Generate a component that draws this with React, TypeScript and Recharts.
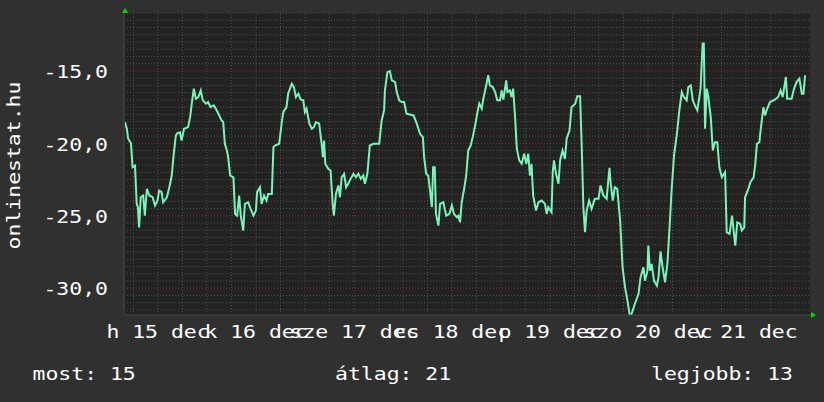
import React from 'react';
import { LineChart, Line, XAxis, YAxis, CartesianGrid, ReferenceLine, ReferenceDot } from 'recharts';

// hours since graph start (Mon 15 Dec ~03:40)
const hours = [0.2,0.7,1.0,1.7,2.1,2.7,3.1,3.4,3.7,4.1,4.7,5.1,5.6,6.2,7.0,7.6,8.2,8.6,9.2,9.6,10.5,11.1,11.7,12.1,12.7,13.1,13.7,14.1,14.7,15.7,16.2,16.6,17.1,17.6,18.2,18.8,19.3,20.1,20.6,21.2,22.0,22.7,23.1,23.9,24.3,24.7,25.2,25.5,26.0,26.8,27.2,27.7,28.2,28.6,29.2,29.6,30.4,31.0,31.7,32.3,32.6,33.3,33.7,34.3,34.9,35.3,36.2,36.6,37.0,38.0,38.6,39.0,39.8,40.2,41.1,41.6,42.1,42.7,43.3,43.9,44.3,44.7,45.4,46.0,46.5,47.0,47.8,48.4,48.7,49.0,49.3,50.0,50.6,51.1,51.4,51.9,52.5,52.9,53.3,53.9,54.4,54.9,55.5,56.2,56.8,57.4,58.0,58.6,59.0,59.6,60.2,61.1,62.5,63.1,63.7,63.9,64.5,65.1,65.6,66.4,66.8,67.4,68.0,68.6,69.2,70.9,71.7,72.5,73.2,73.5,74.0,74.5,74.9,75.4,75.7,76.1,76.4,77.0,77.4,78.2,78.9,79.7,80.3,80.8,81.5,81.9,82.3,82.7,83.3,83.8,84.3,84.9,85.4,86.0,86.5,87.0,87.6,88.0,88.7,89.2,89.6,90.3,90.9,91.4,92.1,92.5,92.9,93.6,93.9,94.5,94.9,95.3,95.8,96.2,96.8,97.4,98.0,98.5,99.0,99.4,99.8,100.2,100.9,101.5,102.3,103.1,103.5,103.9,104.7,105.0,105.3,105.8,106.4,106.8,107.4,108.0,108.4,109.1,109.6,110.5,111.0,111.7,112.1,112.5,112.9,113.3,113.9,114.5,115.3,116.2,116.7,117.4,118.2,118.6,118.9,119.2,119.7,120.2,120.8,121.5,122.1,122.7,123.3,123.8,124.3,125.1,126.0,126.5,127.2,127.6,128.2,128.4,128.8,129.2,129.8,130.5,130.9,131.4,131.9,132.5,133.1,133.7,134.1,134.7,135.4,136.0,136.6,137.1,137.8,138.2,138.8,139.3,139.8,140.4,140.9,141.2,141.7,142.0,142.3,142.7,143.1,143.7,144.2,144.7,145.3,145.8,146.4,147.2,147.6,148.3,148.9,149.3,149.7,150.2,150.9,151.3,151.9,152.1,152.9,153.4,154.2,154.6,155.0,155.6,155.9,156.6,157.0,157.5,158.2,159.4,160.2,160.8,161.3,162.1,162.4,163.5,164.1,164.7,165.4,166.0,166.4,166.8];

const values = [-18.53,-18.99,-19.66,-19.99,-21.65,-21.53,-24.16,-24.41,-25.80,-23.72,-23.60,-24.99,-23.14,-23.60,-23.72,-24.29,-23.95,-23.26,-23.37,-24.07,-23.72,-23.03,-22.22,-20.95,-19.45,-19.29,-19.23,-19.80,-18.99,-18.88,-18.19,-17.26,-16.22,-16.92,-16.80,-16.34,-17.03,-17.26,-17.15,-17.50,-17.38,-17.72,-17.95,-18.42,-18.53,-20.03,-20.49,-20.95,-22.22,-22.34,-24.87,-24.99,-23.60,-24.99,-26.02,-24.18,-24.07,-24.52,-24.99,-24.64,-23.37,-23.03,-24.18,-23.60,-23.95,-23.49,-23.49,-20.26,-20.15,-20.03,-18.64,-17.84,-17.50,-16.57,-15.88,-16.11,-16.80,-16.57,-16.98,-17.03,-17.84,-17.61,-18.64,-18.99,-18.88,-18.53,-18.64,-20.03,-20.95,-19.80,-21.41,-21.76,-21.87,-24.18,-24.99,-23.49,-22.91,-23.72,-22.34,-22.10,-23.03,-22.79,-22.45,-22.10,-22.34,-22.10,-22.45,-22.22,-22.79,-22.10,-20.15,-20.03,-20.03,-18.42,-17.72,-16.34,-15.08,-15.01,-15.65,-15.77,-16.46,-17.03,-17.15,-17.15,-17.95,-18.07,-18.64,-19.34,-19.57,-20.95,-22.10,-22.22,-23.14,-24.41,-21.65,-21.65,-24.87,-25.68,-24.18,-24.07,-24.99,-24.87,-24.29,-24.87,-25.10,-24.99,-25.45,-24.07,-23.14,-22.22,-20.49,-20.15,-19.57,-18.76,-17.95,-17.26,-17.61,-16.92,-16.00,-15.30,-16.00,-16.11,-16.46,-17.03,-17.03,-16.34,-16.98,-15.65,-16.46,-16.34,-16.80,-16.22,-18.30,-20.37,-21.18,-21.41,-20.72,-21.41,-20.72,-22.22,-21.41,-23.60,-24.64,-24.07,-23.95,-24.18,-24.87,-24.41,-24.76,-21.99,-21.18,-22.10,-22.79,-21.18,-20.49,-21.07,-19.68,-19.11,-17.50,-17.26,-16.74,-16.74,-20.26,-24.41,-26.14,-24.64,-23.95,-24.52,-23.83,-23.83,-22.91,-23.60,-23.83,-22.57,-21.69,-22.79,-23.95,-23.03,-23.14,-25.33,-28.56,-29.94,-30.86,-31.78,-31.78,-31.09,-30.40,-29.25,-28.56,-29.48,-28.79,-27.06,-28.79,-28.33,-29.48,-29.83,-29.25,-27.46,-28.56,-29.60,-28.22,-25.33,-23.26,-20.84,-19.34,-17.72,-16.46,-16.80,-17.03,-16.11,-16.00,-17.03,-17.38,-17.72,-16.80,-16.22,-13.11,-13.11,-18.99,-16.22,-16.80,-18.19,-20.49,-19.92,-19.92,-21.65,-22.34,-21.99,-26.14,-26.25,-24.99,-26.02,-27.06,-25.45,-25.56,-26.02,-25.80,-23.72,-23.14,-22.68,-22.34,-21.41,-20.03,-19.92,-19.11,-17.50,-18.07,-17.61,-17.15,-16.98,-16.80,-16.34,-16.80,-15.42,-16.92,-16.92,-16.22,-15.77,-15.53,-16.57,-16.57,-15.30];

const dayLabels = ['h 15 dec', 'k 16 dec', 'sze 17 dec', 'cs 18 dec', 'p 19 dec', 'szo 20 dec', 'v 21 dec'];
const labelHours = [8.33, 32.33, 56.33, 80.33, 104.33, 128.33, 152.33];
const majorHours = [20.33, 44.33, 68.33, 92.33, 116.33, 140.33, 164.33];
const minorHours = [2.33, 8.33, 14.33, 26.33, 32.33, 38.33, 50.33, 56.33, 62.33, 74.33, 80.33, 86.33, 98.33, 104.33, 110.33, 122.33, 128.33, 134.33, 146.33, 152.33, 158.33];
const yTicks = [-15, -20, -25, -30];
const yMinor = [-11, -11.5, -12, -12.5, -13, -13.5, -14, -14.5, -15.5, -16, -16.5, -17, -17.5, -18, -18.5, -19, -19.5, -20.5, -21, -21.5, -22, -22.5, -23, -23.5, -24, -24.5, -25.5, -26, -26.5, -27, -27.5, -28, -28.5, -29, -29.5, -30.5, -31, -31.5];
const xDomain = [0, 168];
const yDomain = [-31.85, -11];
const legend = { most: 'most: 15', avg: 'átlag: 21', best: 'legjobb: 13' };
const axisTitle = 'onlinestat.hu';

const data = hours.map((h, i) => ({ h, v: values[i] }));

const FONT = '"DejaVu Sans Mono", monospace';
const TEXT = '#ffffff';
const FS = 18.5;
const SX = 1.16;

function StretchText({ x, y, anchor, rotate, children }: any) {
  const t = `translate(${x},${y})${rotate ? ` rotate(${rotate})` : ''} scale(${SX},1)`;
  return (
    <text transform={t} textAnchor={anchor || 'start'} fill={TEXT} fontSize={FS} fontFamily={FONT}>
      {children}
    </text>
  );
}

function XTick(props: any) {
  const { x, y, payload } = props;
  const idx = labelHours.indexOf(payload.value);
  return <StretchText x={x} y={y + 13.5} anchor="middle">{dayLabels[idx] ?? ''}</StretchText>;
}

function YTick(props: any) {
  const { x, y, payload } = props;
  return (
    <StretchText x={x} y={y + 7.2} anchor="end">
      {Number(payload.value).toFixed(1).replace('.', ',')}
    </StretchText>
  );
}

export default function App() {
  return (
    <div style={{ position: 'relative', width: 824, height: 402, background: '#303030' }}>
      <style>{`body{margin:0;background:#303030;}`}</style>
      <LineChart
        width={824}
        height={402}
        data={data}
        margin={{ top: 13, right: 14, bottom: 57, left: 0 }}
      >
        <CartesianGrid fill="#222222" horizontal={false} vertical={false} />
        {yMinor.map((v) => (
          <ReferenceLine key={'ym' + v} y={v} stroke="#505050" strokeDasharray="1 2" strokeWidth={1} />
        ))}
        {minorHours.map((v) => (
          <ReferenceLine key={'xm' + v} x={v} stroke="#505050" strokeDasharray="1 2" strokeWidth={1} />
        ))}
        {yTicks.map((v) => (
          <ReferenceLine key={'yM' + v} y={v} stroke="#743333" strokeDasharray="1 2" strokeWidth={1} />
        ))}
        {majorHours.map((v) => (
          <ReferenceLine key={'xM' + v} x={v} stroke="#743333" strokeDasharray="1 2" strokeWidth={1} />
        ))}
        <XAxis
          dataKey="h"
          type="number"
          domain={xDomain}
          allowDataOverflow
          ticks={labelHours}
          interval={0}
          tickLine={false}
          tickSize={0}
          tickMargin={9}
          height={30}
          axisLine={{ stroke: '#474747', strokeWidth: 1 }}
          tick={<XTick />}
        />
        <YAxis
          type="number"
          domain={yDomain}
          allowDataOverflow
          ticks={yTicks}
          interval={0}
          tickLine={false}
          tickSize={0}
          tickMargin={16}
          width={124}
          axisLine={{ stroke: '#3a3a3a', strokeWidth: 2 }}
          tick={<YTick />}
        />
        <Line
          type="linear"
          dataKey="v"
          stroke="#7af4b9"
          strokeWidth={2}
          dot={false}
          isAnimationActive={false}
        />
        <ReferenceDot
          x={xDomain[0]}
          y={yDomain[1]}
          ifOverflow="visible"
          shape={(p: any) => (
            <polygon
              points={`${p.cx - 2},${p.cy} ${p.cx + 4},${p.cy} ${p.cx + 1},${p.cy - 5}`}
              fill="#00dd00"
            />
          )}
        />
        <ReferenceDot
          x={xDomain[1]}
          y={yDomain[0]}
          ifOverflow="visible"
          shape={(p: any) => (
            <polygon
              points={`${p.cx + 1},${p.cy - 3} ${p.cx + 1},${p.cy + 3} ${p.cx + 6},${p.cy}`}
              fill="#00dd00"
            />
          )}
        />
      </LineChart>
      <svg
        width={824}
        height={402}
        style={{ position: 'absolute', left: 0, top: 0, pointerEvents: 'none' }}
      >
        <StretchText x={20} y={165.5} rotate={-90} anchor="middle">{axisTitle}</StretchText>
        <StretchText x={32.5} y={380}>{legend.most}</StretchText>
        <StretchText x={335} y={380}>{legend.avg}</StretchText>
        <StretchText x={793} y={380} anchor="end">{legend.best}</StretchText>
      </svg>
    </div>
  );
}
